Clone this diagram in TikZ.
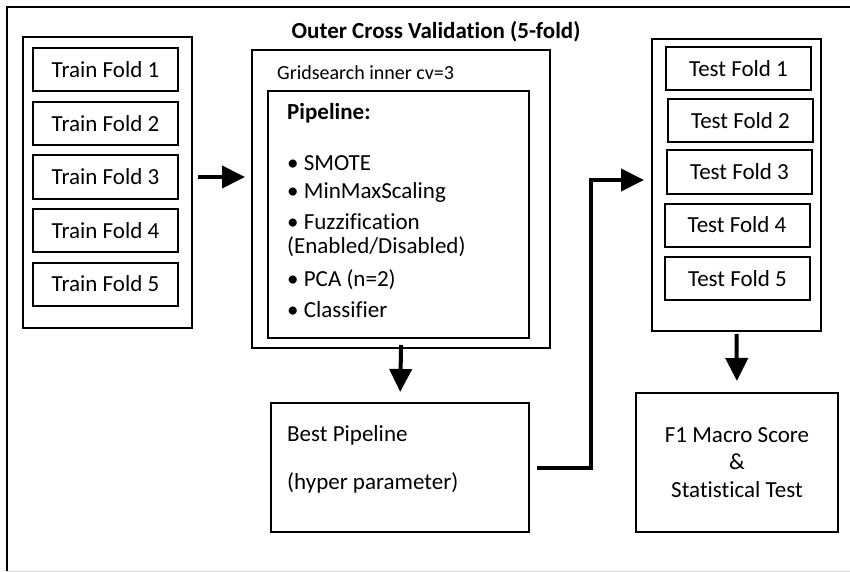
\documentclass[tikz,border=0pt]{standalone}
\usepackage{fontspec}
\setmainfont{Carlito}[Ligatures=NoCommon]
\usetikzlibrary{arrows.meta}
\newcommand{\foldw}{145pt}
\newcommand{\foldh}{43pt}
\newcommand{\colw}{169pt}
\newcommand{\boxlw}{2pt}
\newcommand{\arrlw}{4pt}
\newcommand{\txtsize}{\fontsize{23}{27.5}\selectfont}
\tikzset{
  framebox/.style={draw, line width=\boxlw, inner sep=0pt},
  foldbox/.style={framebox, minimum width=\foldw, minimum height=\foldh},
  listline/.style={anchor=west, inner sep=0pt},
  bigarrow/.style={line width=\arrlw, -{Triangle[length=23pt,width=22pt]}},
}

\begin{document}
\begin{tikzpicture}[x=1pt,y=-1pt,font=\txtsize]
    \useasboundingbox (0,0) rectangle (850,572);
    % outer cv frame
    \draw [line width=\boxlw] (7,571) -- (7,7) -- (851,7);
    \draw [line width=1pt, black!15] (7,571) -- (850,571);
    \node (title) at (436,32) {\fontsize{23}{27}\selectfont\bfseries Outer Cross Validation (5-fold)};

    % train folds
    \node [framebox, minimum width=\colw, minimum height=291pt] (trainbox) at (107.5,182.5) {};
    \foreach \i/\yy in {1/70, 2/123.5, 3/177, 4/230.5, 5/284}
      \node [foldbox] (train\i) at (105.5,\yy) {Train Fold \i};

    % gridsearch + pipeline
    \begin{scope}
      \node [framebox, minimum width=298pt, minimum height=298pt] (gridbox) at (401,199) {};
      \node [listline, font=\fontsize{20}{24}\selectfont] (gridlabel) at (277,73) {Gridsearch inner cv=3};
      \node [framebox, minimum width=261pt, minimum height=247pt] (pipebox) at (398.5,214.5) {};
      \node [listline, font=\txtsize\bfseries] (pipelabel) at (287,113) {Pipeline:};
      \foreach \yy/\txt [count=\k] in {163/{\textbullet\ SMOTE},
          192/{\textbullet\ MinMaxScaling}, 222/{\textbullet\ Fuzzification},
          247/{(Enabled/Disabled)}, 280/{\textbullet\ PCA (n=2)},
          310/{\textbullet\ Classifier}}
        \node [listline] (step\k) at (287,\yy) {\txt};
    \end{scope}

    % best pipeline
    \node [framebox, minimum width=258pt, minimum height=129pt] (bestbox) at (400,467.5) {};
    \node [listline] (bestlabel) at (287,435) {Best Pipeline};
    \node [listline] (hyperlabel) at (287,483) {(hyper parameter)};

    % test folds
    \node [framebox, minimum width=\colw, minimum height=292pt] (testbox) at (736.5,185) {};
    \foreach \i/\xx/\yy in {1/738.5/69, 2/740.5/121, 3/739.5/172, 4/737/225, 5/737.5/278.5}
      \node [foldbox] (test\i) at (\xx,\yy) {Test Fold \i};

    % score
    \node [framebox, minimum width=202pt, minimum height=139pt, align=center] (f1box) at (737,462.5)
      {F1 Macro Score\\\&\\Statistical Test};

    \begin{scope}
      \draw [bigarrow, shorten <=5pt, shorten >=6pt] (trainbox.east |- train3) -- (gridbox.west |- train3);
      \draw [bigarrow, shorten <=-4pt, shorten >=10pt] (gridbox.south) -- (bestbox.north);
      \coordinate (bend) at (591,180);
      \draw [bigarrow, shorten >=7pt] ([xshift=7pt]bestbox.east) -| (bend) -- (testbox.west |- bend);
      \draw [bigarrow, shorten <=2pt, shorten >=11pt] (testbox.south) -- (f1box.north);
    \end{scope}
\end{tikzpicture}
\end{document}
